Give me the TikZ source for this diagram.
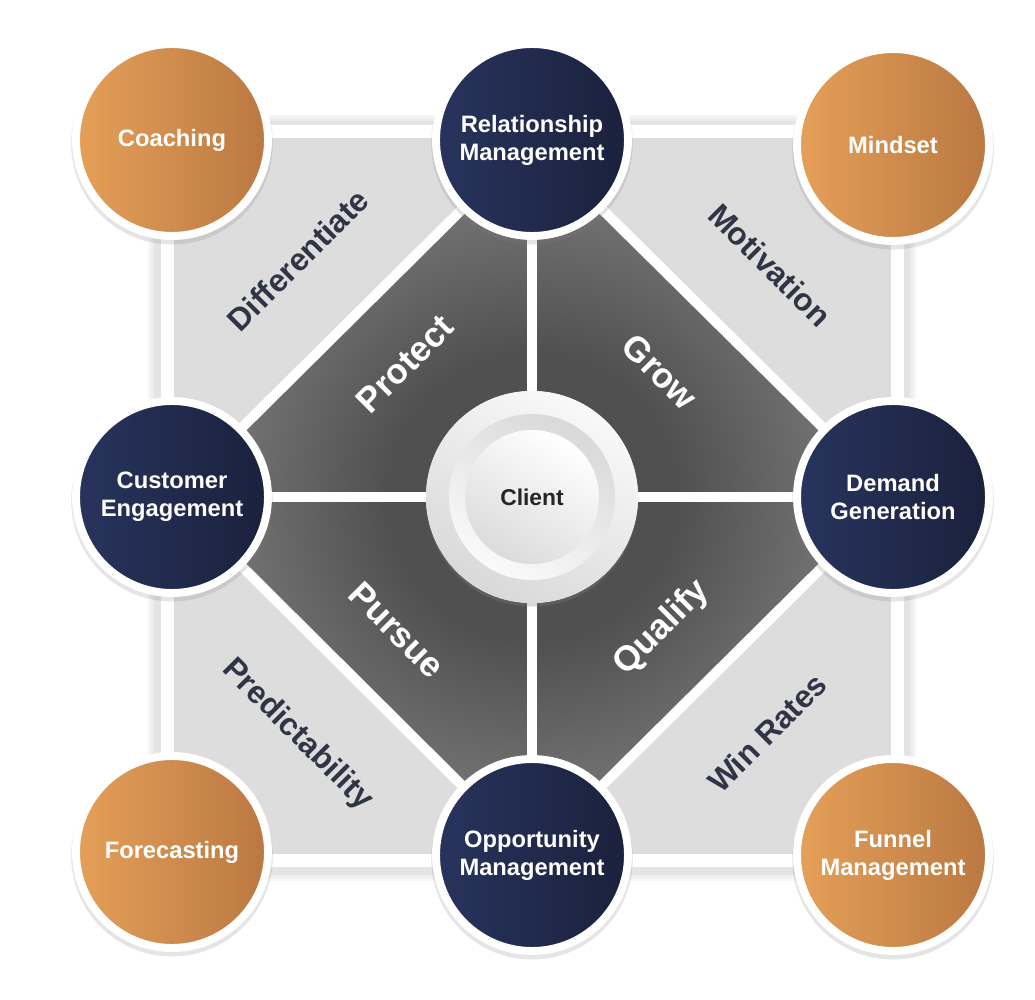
\documentclass[tikz,border=0pt]{standalone}
\usepackage{fontspec}
\setmainfont{Liberation Sans}
\usetikzlibrary{shadows}
\definecolor{navyL}{RGB}{40,52,94}
\definecolor{navyD}{RGB}{26,33,60}
\definecolor{orangeL}{RGB}{229,160,88}
\definecolor{orangeD}{RGB}{186,120,66}
\definecolor{panel}{RGB}{221,221,222}
\definecolor{slate}{RGB}{47,53,68}
\definecolor{wedgeD}{RGB}{80,80,80}
\definecolor{wedgeL}{RGB}{152,152,152}
\pgfdeclareradialshading{wedgeglow}{\pgfpoint{0bp}{0bp}}{color(0bp)=(wedgeD); color(10bp)=(wedgeD); color(33bp)=(wedgeL); color(50bp)=(wedgeL)}
\begin{document}
\begin{tikzpicture}[x=0.02cm,y=-0.02cm,
  disc/.style={circle,draw=white,line width=4.5pt,minimum size=3.84cm,inner sep=0pt,
    align=center,text=white,font=\fontsize{13.5}{16}\selectfont\bfseries,
    drop shadow={opacity=0.2,shadow xshift=0pt,shadow yshift=-2pt,shadow scale=1.05}},
  hub/.style={disc,left color=navyL,right color=navyD},
  lever/.style={disc,left color=orangeL,right color=orangeD},
  side/.style={font=\fontsize{18}{20}\selectfont\bfseries,text=slate},
  wedge/.style={font=\fontsize{20}{22}\selectfont\bfseries,text=white},
  cut/.style={white,line width=5.7pt}]
  \fill[white] (0,0) rectangle (1035,1000);
  \useasboundingbox (0,0) rectangle (1035,1000);
  \coordinate (c) at (532,497);
  \coordinate (n) at (532,140);
  \coordinate (s) at (532,855);
  \coordinate (w) at (172,497);
  \coordinate (e) at (893,497);
  \foreach \d in {12,9,6}
    \fill[black,opacity=0.035] (160-\d,125-\d+2) rectangle (904+\d,867+\d+2);
  \draw[white,line width=7.4pt,fill=panel] (167,132) rectangle (897,860);
  \shade[shading=wedgeglow] (n) -- (e) -- (s) -- (w) -- cycle;
  \draw[cut,line join=round] (n) -- (e) -- (s) -- (w) -- cycle;
  \draw[cut] (n) -- (s) (w) -- (e);
  \fill[white,drop shadow={opacity=0.3,shadow xshift=0pt,shadow yshift=-2pt}] (c) circle[radius=106];
  \shade[top color=gray!5,bottom color=gray!30,shading angle=-30] (c) circle[radius=106];
  \shade[top color=gray!30,bottom color=gray!4,shading angle=-30] (c) circle[radius=83];
  \node[circle,minimum size=2.68cm,top color=white,bottom color=gray!28,shading angle=-30,
    font=\fontsize{13}{15}\selectfont\bfseries,text=black!85] (client) at (c) {Client};

  \node[side,rotate=45] (diff) at (298,260) {Differentiate};
  \node[side,rotate=-45] (moti) at (770,265) {Motivation};
  \node[side,rotate=-45] (pred) at (297,735) {Predictability};
  \node[side,rotate=45] (winr) at (767,733) {Win Rates};
  \node[wedge,rotate=45] (prot) at (405,364) {Protect};
  \node[wedge,rotate=-45] (grow) at (660,372) {Grow};
  \node[wedge,rotate=-45] (purs) at (397,630) {Pursue};
  \node[wedge,rotate=45] (qual) at (662,628) {Qualify};

  \node[hub] (relm) at (n) {Relationship\\Management};
  \node[hub] (cust) at (w) {Customer\\Engagement};
  \node[hub] (dgen) at (e) {Demand\\Generation};
  \node[hub] (oppm) at (s) {Opportunity\\Management};
  \node[lever] (coach) at (172,140) {Coaching};
  \node[lever] (mind) at (893,145) {Mindset};
  \node[lever] (fcst) at (172,852) {Forecasting};
  \node[lever] (funnel) at (893,855) {Funnel\\Management};
\end{tikzpicture}
\end{document}
